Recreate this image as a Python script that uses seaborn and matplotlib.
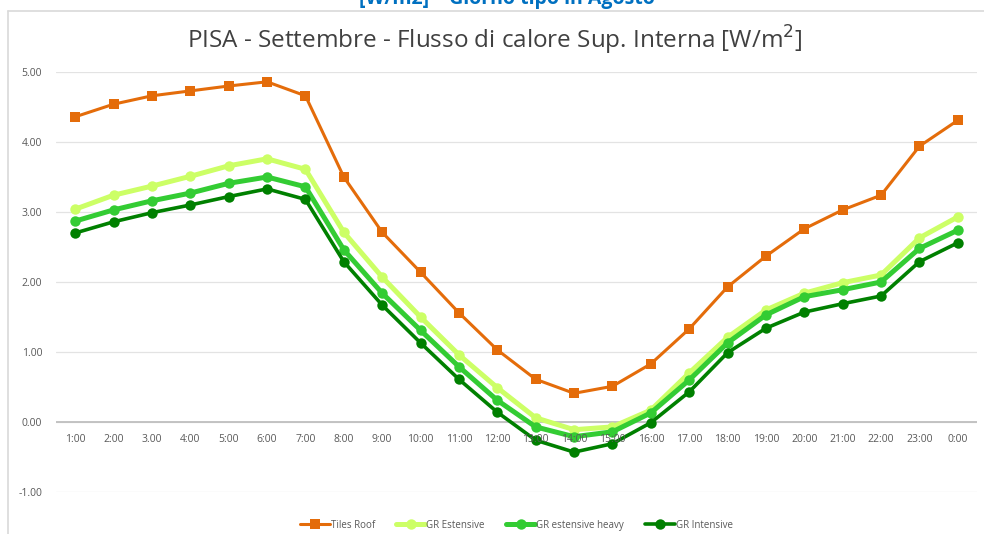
import numpy as np
import pandas as pd
import seaborn as sns
import matplotlib.pyplot as plt
from matplotlib.lines import Line2D

hours = ["1:00", "2:00", "3.00", "4:00", "5:00", "6:00", "7:00", "8:00", "9:00", "10:00",
         "11:00", "12:00", "13:00", "14:00", "15:00", "16:00", "17.00", "18:00", "19:00",
         "20:00", "21:00", "22:00", "23:00", "0:00"]

tiles_roof = [4.36, 4.54, 4.66, 4.73, 4.80, 4.86, 4.66, 3.50, 2.71, 2.14, 1.56, 1.03,
              0.61, 0.41, 0.51, 0.83, 1.33, 1.93, 2.37, 2.76, 3.03, 3.24, 3.94, 4.31]
gr_estensive = [3.04, 3.24, 3.37, 3.51, 3.66, 3.76, 3.61, 2.71, 2.07, 1.50, 0.96, 0.49,
                0.06, -0.11, -0.07, 0.17, 0.70, 1.21, 1.60, 1.84, 1.99, 2.10, 2.63, 2.93]
gr_est_heavy = [2.87, 3.03, 3.16, 3.27, 3.41, 3.50, 3.36, 2.46, 1.84, 1.31, 0.79, 0.31,
                -0.07, -0.21, -0.14, 0.13, 0.60, 1.13, 1.53, 1.79, 1.89, 2.00, 2.48, 2.74]
gr_intensive = [2.70, 2.86, 2.99, 3.10, 3.22, 3.33, 3.18, 2.29, 1.67, 1.13, 0.61, 0.14,
                -0.26, -0.43, -0.31, -0.01, 0.43, 0.99, 1.34, 1.57, 1.69, 1.80, 2.29, 2.56]

series = ["Tiles Roof", "GR Estensive", "GR estensive heavy", "GR Intensive"]
colors = ["#E46C0A", "#CCFF66", "#33CC33", "#008000"]
markers = ["s", "o", "o", "o"]
widths = [2.2, 3.6, 3.6, 2.6]
msizes = [6.5, 7.5, 7.5, 7.5]

df = pd.DataFrame({"hour": hours, "Tiles Roof": tiles_roof, "GR Estensive": gr_estensive,
                   "GR estensive heavy": gr_est_heavy, "GR Intensive": gr_intensive})
long = df.melt(id_vars="hour", var_name="serie", value_name="flux")
long["x"] = long.groupby("serie").cumcount()

sns.set_style("white")
plt.rcParams['font.family'] = ['Open Sans', 'DejaVu Sans']

fig = plt.figure(figsize=(9.84, 5.34), dpi=100)
ax = fig.add_axes([56 / 984, 42 / 534, 921 / 984, 420 / 534])

# bordo dell'area grafico (sopra e a sinistra)
fig.add_artist(Line2D([8 / 984, 1], [1 - 11 / 534, 1 - 11 / 534], color="#D9D9D9", lw=1.2))
fig.add_artist(Line2D([8 / 984, 8 / 984], [0, 1 - 11 / 534], color="#D9D9D9", lw=1.2))

for s, c, m, w, ms in zip(series, colors, markers, widths, msizes):
    d = long[long["serie"] == s]
    sns.lineplot(data=d, x="x", y="flux", ax=ax, color=c, marker=m, lw=w,
                 markersize=ms, markeredgewidth=0, label=s)

ax.set_xlim(-0.5, len(hours) - 0.5)
ax.set_ylim(-1, 5)
ax.set_yticks(np.arange(-1, 6, 1))
ax.set_yticklabels([f"{v:.2f}" for v in np.arange(-1, 6, 1)])
ax.set_xticks([])
ax.set_xlabel("")
ax.set_ylabel("")
ax.grid(axis="y", color="#E3E3E3", lw=0.9)
ax.set_axisbelow(True)
for sp in ax.spines.values():
    sp.set_visible(False)
ax.axhline(0, color="#BFBFBF", lw=1.3, zorder=1)

ax.tick_params(axis="y", length=0, labelsize=7.5, labelcolor="#595959", pad=10)

# etichette orarie sotto la linea dello zero
for i, h in enumerate(hours):
    ax.text(i, -0.25, h, ha="center", va="center", fontsize=7.5, color="#595959")

ax.legend(loc="upper center", bbox_to_anchor=(0.5, -0.045), ncol=4, frameon=False,
          fontsize=7, handlelength=3, columnspacing=2.2, handletextpad=0.1,
          labelcolor="#595959")

fig.text(0.503, 1 - 40 / 534, "PISA - Settembre - Flusso di calore Sup. Interna [W/m$^2$]",
         ha="center", va="center", fontsize=17.5, fontweight=500, color="#404040")
fig.text(0.515, 1 - 4 / 534, "[W/m2] \u2013 Giorno tipo in Agosto", ha="center",
         va="baseline", fontsize=14, fontweight="bold", color="#0070C0")

fig.savefig("out.png", dpi=100)
